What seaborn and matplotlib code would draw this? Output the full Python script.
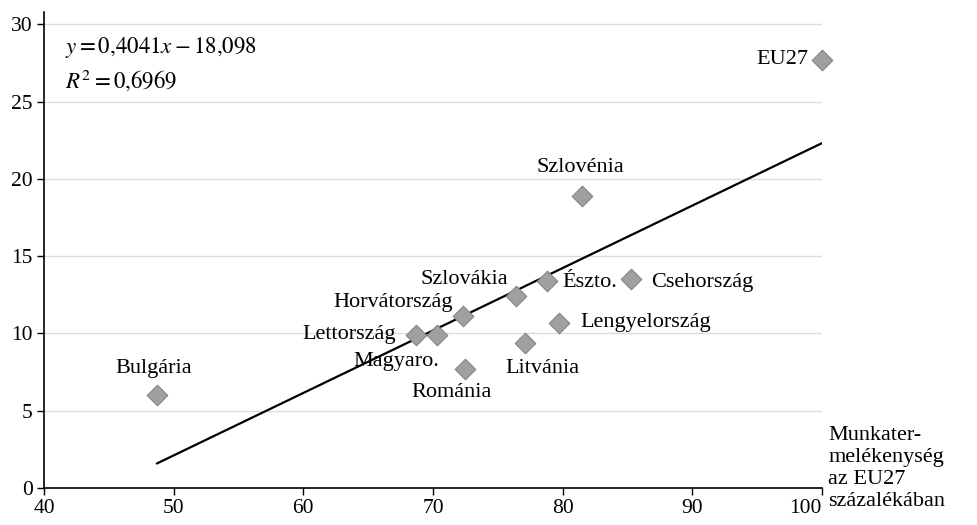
import numpy as np
import pandas as pd
import seaborn as sns
import matplotlib.pyplot as plt

# productivity (% of EU27) vs. value on y axis
countries = ["Bulgária", "Lettország", "Magyaro.", "Horvátország", "Románia",
             "Szlovákia", "Litvánia", "Észto.", "Lengyelország", "Szlovénia",
             "Csehország", "EU27"]
productivity = [48.7, 68.7, 70.3, 72.3, 72.5, 76.4, 77.1, 78.8, 79.7, 81.5, 85.3, 100.0]
values = [6.0, 9.9, 9.9, 11.1, 7.7, 12.4, 9.4, 13.4, 10.7, 18.9, 13.5, 27.7]

# trendline from the equation shown on the chart
slope = 0.4041
intercept = -18.098
r2 = 0.6969

# label offsets in pixels (dx, dy, ha)
label_pos = {
    "Bulgária": (-3, 27, "center"),
    "Lettország": (-20, 0, "right"),
    "Magyaro.": (2, -27, "right"),
    "Horvátország": (-10, 14, "right"),
    "Románia": (-14, -24, "center"),
    "Szlovákia": (-8, 17, "right"),
    "Litvánia": (-20, -26, "left"),
    "Észto.": (15, -2, "left"),
    "Lengyelország": (22, 0, "left"),
    "Szlovénia": (-2, 28, "center"),
    "Csehország": (20, -3, "left"),
    "EU27": (-14, 0, "right"),
}

df = pd.DataFrame({"country": countries, "x": productivity, "y": values})

sns.set_theme(style="white")
plt.rcParams["font.family"] = ["Liberation Serif", "DejaVu Serif"]
plt.rcParams["mathtext.fontset"] = "stix"
plt.rcParams["text.color"] = "black"
plt.rcParams["xtick.color"] = "black"
plt.rcParams["ytick.color"] = "black"

fig = plt.figure(figsize=(9.77, 5.25), dpi=100)
ax = fig.add_axes([0.045, 0.0705, 0.7963, 0.9067])

ax.yaxis.grid(True, color="#dcdcdc", linewidth=1.0)
ax.set_axisbelow(True)

line_x = np.array([df["x"].min(), df["x"].max()])
line_df = pd.DataFrame({"x": line_x, "y": slope * line_x + intercept})
sns.lineplot(data=line_df, x="x", y="y", color="black", linewidth=1.6, ax=ax, zorder=2)

sns.scatterplot(data=df, x="x", y="y", marker="D", s=110, color="#a0a0a0",
                edgecolor="#858585", linewidth=0.8, ax=ax, zorder=3, clip_on=False)

for _, row in df.iterrows():
    dx, dy, ha = label_pos[row["country"]]
    ax.annotate(row["country"], (row["x"], row["y"]), xytext=(dx, dy),
                textcoords="offset pixels", ha=ha, va="center", fontsize=16,
                color="black")

ax.text(0.027, 0.926, r"$y = 0{,}4041x - 18{,}098$", transform=ax.transAxes,
        fontsize=16.5, va="center", color="black")
ax.text(0.027, 0.857, r"$R^2 = 0{,}6969$", transform=ax.transAxes,
        fontsize=16.5, va="center", color="black")

ax.set_xlim(40, 100)
ax.set_ylim(0, 30.8)
ax.set_xticks(range(40, 101, 10))
ax.set_yticks(range(0, 31, 5))
ax.tick_params(axis="both", direction="out", length=5, width=1, color="black",
               labelcolor="black", labelsize=15.5, pad=3, bottom=True, left=True)
ax.get_xticklabels()[-1].set_ha("right")
for side in ["top", "right"]:
    ax.spines[side].set_visible(False)
for side in ["left", "bottom"]:
    ax.spines[side].set_color("black")
    ax.spines[side].set_linewidth(1.2)
ax.set_xlabel("")
ax.set_ylabel("")

ax.text(1.008, 0.13, "Munkater-\nmelékenység\naz EU27\nszázalékában",
        transform=ax.transAxes, ha="left", va="top", fontsize=16,
        linespacing=1.22, color="black")

fig.savefig("out.png", dpi=100)
